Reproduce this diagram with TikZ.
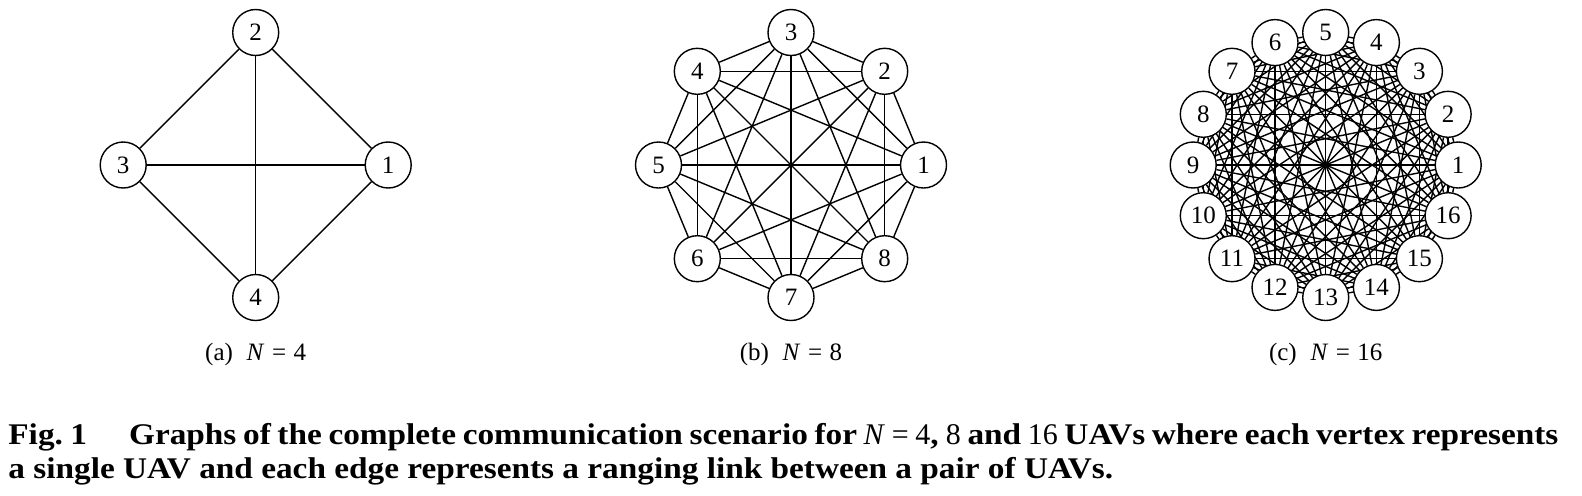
\documentclass[tikz,border=0pt]{standalone}
\usepackage{fontspec}
\setmainfont{Liberation Serif}
\newfontfamily\capfont[FakeStretch=1.11]{Liberation Serif}
\usepackage{tikz}
\usetikzlibrary{calc, backgrounds}
\tikzset{
    vertex/.style={draw, circle, fill=white, minimum size=23pt, inner sep=0pt, line width=0.7pt,
        font=\fontsize{12.5}{12.5}\selectfont},
    link/.style={line width=0.7pt},
    subcap/.style={anchor=base, inner sep=0pt, font=\fontsize{12.5}{12.5}\selectfont},
    figcap/.style={anchor=base west, inner sep=0pt, font=\fontsize{15}{18}\capfont\bfseries}
}

\begin{document}
\begin{tikzpicture}[x=0.5pt, y=0.5pt]
    \useasboundingbox (0,0) rectangle (1582,495);

    \foreach \g/\n/\cx in {a/4/255.7, b/8/791, c/16/1325.7} {
        \foreach \i in {1,...,\n}
            \draw ({\cx+132.5*cos(360*(\i-1)/\n)}, {330+132.5*sin(360*(\i-1)/\n)}) node[vertex](\g\i){\i};
        \pgfmathtruncatemacro\m{\n-1}
        \begin{pgfonlayer}{background}
        \foreach \i in {1,...,\m} {
            \pgfmathtruncatemacro\k{\i+1}
            \foreach \j in {\k,...,\n}
                \draw[link] (\g\i) -- (\g\j);
        }
        \end{pgfonlayer}
    }

    \draw (255.7,135) node[subcap](capa){(a)\hspace{0.55em}\textit{N}\hspace{0.3em}=\hspace{0.3em}4};
    \draw (791,135) node[subcap](capb){(b)\hspace{0.55em}\textit{N}\hspace{0.3em}=\hspace{0.3em}8};
    \draw (1325.7,135) node[subcap](capc){(c)\hspace{0.55em}\textit{N}\hspace{0.3em}=\hspace{0.3em}16};

    \draw (8,51) node[figcap](cap1){\spaceskip=0.15em plus 1em\relax\makebox[775pt][s]{Fig.\hspace{0.25em}1\hspace{1.4em}Graphs of the complete communication scenario for \textnormal{\textit{N} = 4}, \textnormal{8} and \textnormal{16} UAVs where each vertex represents}};
    \draw (8,17) node[figcap](cap2){a single UAV and each edge represents a ranging link between a pair of UAVs.};
\end{tikzpicture}
\end{document}
